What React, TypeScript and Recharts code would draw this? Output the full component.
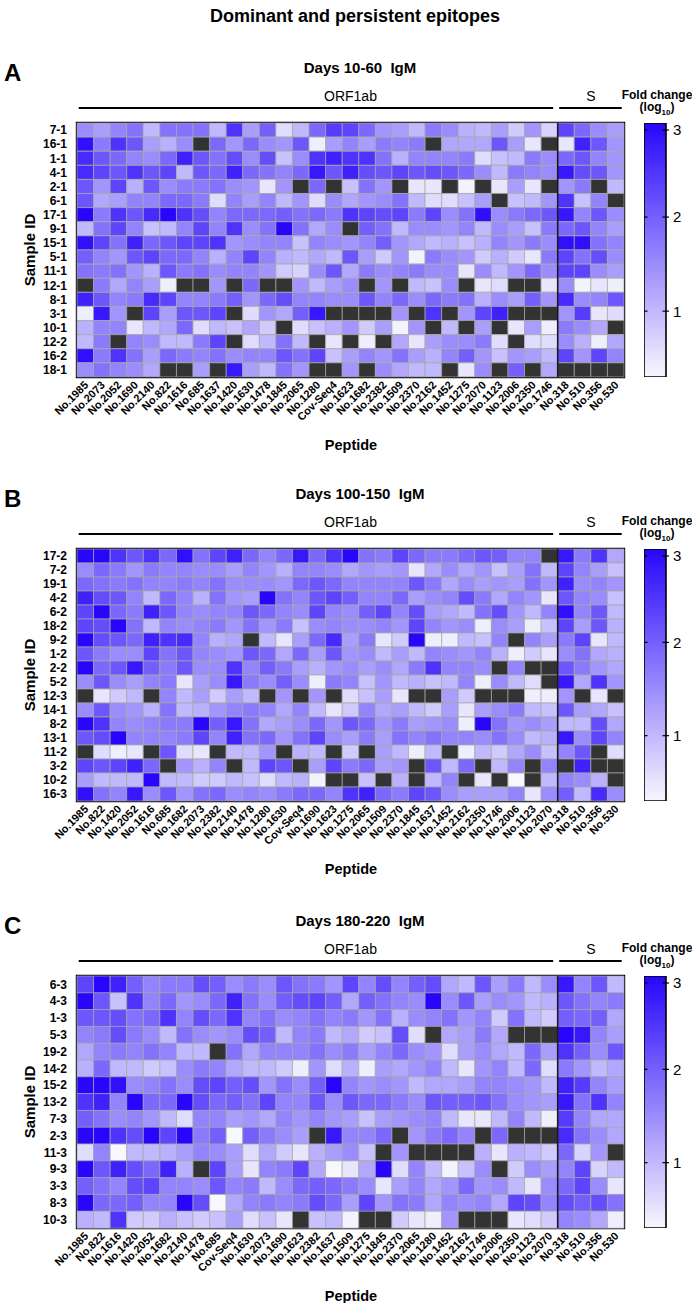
import React from 'react';
import { BarChart, Bar, Cell, XAxis, YAxis, ReferenceLine, ReferenceArea } from 'recharts';

const FONT = '"Liberation Sans", Arial, Helvetica, sans-serif';
const X = null; // black cell (no value)

const GROUP_NAMES = ['ORF1ab', 'S'];
const GROUP_START = [0, 29];
const GROUP_END = [29, 33];
const GROUP_LABEL_AT = [16.5, 31];

const SCALE_MIN = 0.3;
const SCALE_MAX = 3;
const LEGEND_TICKS = [1, 2, 3];

// ---- panel A: Days 10-60 IgM
const SAMPLES_A = ['7-1', '16-1', '1-1', '4-1', '2-1', '6-1', '17-1', '9-1', '15-1', '5-1', '11-1', '12-1', '8-1', '3-1', '10-1', '12-2', '16-2', '18-1'];
const PEPTIDES_A = ['No.1985', 'No.2073', 'No.2052', 'No.1690', 'No.2140', 'No.822', 'No.1616', 'No.685', 'No.1637', 'No.1420', 'No.1630', 'No.1478', 'No.1845', 'No.2065', 'No.1280', 'Cov-Seq4', 'No.1623', 'No.1682', 'No.2382', 'No.1509', 'No.2370', 'No.2162', 'No.1452', 'No.1275', 'No.2070', 'No.1123', 'No.2006', 'No.2350', 'No.1746', 'No.318', 'No.510', 'No.356', 'No.530'];
const FOLD_A = [
  [1.5, 1.3, 1.6, 1.8, 1.0, 1.8, 1.8, 1.8, 1.0, 2.5, 1.3, 2.0, 0.6, 1.0, 1.9, 2.4, 2.3, 1.9, 1.4, 1.3, 1.0, 1.7, 1.5, 1.1, 1.0, 1.3, 0.8, 1.4, 0.7, 2.3, 1.9, 1.5, 1.3],
  [2.9, 1.7, 2.5, 2.1, 1.3, 1.1, 1.5, X, 1.9, 1.4, 1.9, 1.5, 1.4, 2.1, 0.4, 1.3, 1.6, 1.3, 1.7, 1.6, 1.7, X, 1.2, 1.2, 1.2, 2.1, 1.3, 0.5, X, 0.5, 2.7, 2.1, 1.4],
  [2.6, 2.1, 1.9, 1.6, 1.5, 1.9, 2.7, 2.1, 1.8, 2.2, 1.5, 2.2, 0.9, 1.5, 2.5, 2.7, 2.5, 2.5, 1.8, 1.1, 1.6, 1.6, 1.6, 1.7, 0.6, 0.9, 1.0, 1.7, 1.5, 1.9, 2.1, 1.6, 1.4],
  [2.6, 2.3, 2.1, 2.5, 2.1, 2.3, 1.0, 2.1, 1.9, 2.7, 1.9, 1.8, 1.6, 1.9, 2.8, 2.1, 2.7, 2.2, 2.1, 2.3, 2.1, 2.2, 2.1, 1.9, 1.5, 1.0, 1.7, 1.6, 1.5, 2.8, 2.2, 2.1, 1.4],
  [2.1, 1.4, 2.3, 1.1, 2.1, 1.5, 1.7, 1.7, 1.8, 1.5, 1.4, 0.5, 1.4, X, 1.9, X, 0.9, 1.8, 1.4, X, 0.5, 0.5, X, 0.35, X, 0.5, 1.3, 0.5, X, 1.4, 1.7, X, 1.0],
  [2.1, 1.2, 1.3, 1.6, 1.6, 1.9, 1.9, 1.7, 0.6, 1.6, 1.3, 1.6, 1.0, 1.4, 0.6, 1.5, 1.2, 1.4, 1.5, 1.8, 1.0, 0.6, 0.6, 0.9, 1.3, X, 0.9, 1.0, 1.4, 2.5, 0.9, 1.6, X],
  [3.0, 1.7, 2.5, 2.1, 2.6, 3.0, 2.5, 2.2, 1.6, 1.9, 1.9, 1.9, 2.0, 1.8, 1.9, 1.7, 2.5, 2.3, 2.2, 2.3, 1.7, 2.3, 1.5, 1.8, 2.9, 1.5, 1.7, 1.9, 2.1, 2.8, 1.6, 2.1, 1.5],
  [1.0, 1.8, 2.3, 1.6, 0.9, 1.0, 1.6, 2.3, 1.6, 2.5, 1.5, 1.8, 3.0, 1.8, 1.2, 1.5, X, 2.0, 1.8, 1.0, 1.5, 1.5, 1.4, 1.6, 1.0, 1.5, 1.3, 0.9, 1.7, 1.9, 2.1, 1.6, 1.3],
  [2.9, 2.3, 1.8, 2.7, 1.9, 2.1, 2.3, 2.3, 2.5, 1.4, 1.5, 1.6, 1.6, 0.9, 1.6, 1.5, 1.4, 1.6, 2.0, 1.4, 1.2, 1.0, 1.1, 0.9, 1.1, 1.6, 1.4, 1.7, 1.5, 2.9, 2.9, 1.8, 1.6],
  [2.0, 1.6, 1.4, 2.1, 2.3, 1.9, 1.9, 1.6, 1.1, 1.6, 2.3, 1.6, 1.1, 1.0, 1.2, 1.0, 2.1, 1.3, 0.8, 1.4, 0.35, 1.7, 1.5, 1.4, 0.8, 1.1, 0.8, 0.5, 1.7, 2.3, 1.8, 2.2, 1.5],
  [1.8, 1.7, 1.8, 1.4, 1.1, 2.1, 1.7, 1.8, 1.5, 1.6, 1.6, 1.4, 0.8, 0.7, 1.5, 2.1, 1.2, 1.7, 1.5, 1.6, 1.7, 1.5, 1.5, 0.5, 1.5, 1.0, 1.4, 1.9, 1.5, 2.3, 2.3, 1.5, 1.3],
  [X, 1.7, 1.2, 1.6, 1.3, 0.4, X, X, 1.4, X, 1.9, X, X, 1.4, 1.0, 1.3, 1.5, X, 1.4, X, 1.0, 0.9, 1.5, X, 0.5, 0.6, X, X, 0.5, 1.5, 0.35, 0.5, 0.4],
  [2.7, 2.1, 1.6, 1.7, 2.6, 2.3, 1.6, 1.6, 1.7, 2.0, 1.4, 1.9, 2.2, 1.6, 1.6, 1.5, 1.5, 2.1, 1.6, 1.9, 1.5, 1.9, 1.7, 1.8, 1.1, 1.5, 1.3, 2.0, 1.4, 2.6, 1.5, 1.6, 2.1],
  [0.4, 2.8, 1.4, X, 2.3, 1.3, 2.1, 2.1, 2.3, X, 0.6, 1.4, 1.2, 2.0, 2.8, X, X, X, X, 1.4, X, 2.5, X, 1.4, 2.3, 2.7, X, X, X, 1.4, 2.4, 0.5, 0.6],
  [1.1, 1.6, 1.6, 0.5, 1.0, 1.2, 1.9, 0.6, 1.0, 0.9, 1.2, 0.8, X, 0.6, 0.9, 1.1, 1.4, 0.8, 1.3, 0.35, 1.4, X, 1.0, X, 1.3, X, 0.5, 1.3, 0.4, 1.7, 1.5, 1.2, X],
  [1.0, 1.7, X, 1.6, 1.5, 1.0, 1.0, 1.7, 2.3, X, 0.6, 1.0, 1.8, 1.0, X, 0.5, X, 0.4, X, 1.2, 0.5, 1.3, 1.5, 1.5, 1.7, 0.6, X, 0.6, 0.6, 1.5, 1.1, 0.4, 1.2],
  [2.9, 1.7, 2.5, 1.8, 1.3, 1.9, 1.7, 1.6, 1.8, 1.5, 1.6, 1.6, 2.1, 1.8, 2.3, 0.9, 1.3, 1.6, 1.4, 1.8, 1.3, 1.1, 1.6, 2.0, 1.4, 0.9, 1.4, 1.3, 1.0, 2.3, 1.4, 2.3, 1.6],
  [1.5, 1.8, 1.6, 1.5, 1.2, X, X, 1.3, X, 2.8, 1.3, 1.0, 1.8, 1.4, X, X, 1.4, X, 1.5, 1.2, 1.0, 1.0, X, 0.5, 1.5, X, 2.0, X, 1.2, X, X, X, X],
];

// ---- panel B: Days 100-150 IgM
const SAMPLES_B = ['17-2', '7-2', '19-1', '4-2', '6-2', '18-2', '9-2', '1-2', '2-2', '5-2', '12-3', '14-1', '8-2', '13-1', '11-2', '3-2', '10-2', '16-3'];
const PEPTIDES_B = ['No.1985', 'No.822', 'No.1420', 'No.2052', 'No.1616', 'No.685', 'No.1682', 'No.2073', 'No.2382', 'No.2140', 'No.1478', 'No.1280', 'No.1630', 'Cov-Seq4', 'No.1690', 'No.1623', 'No.1275', 'No.2065', 'No.1509', 'No.2370', 'No.1845', 'No.1637', 'No.1452', 'No.2162', 'No.2350', 'No.1746', 'No.2006', 'No.1123', 'No.2070', 'No.318', 'No.510', 'No.356', 'No.530'];
const FOLD_B = [
  [3.0, 3.0, 2.5, 2.1, 2.5, 1.9, 2.9, 1.8, 2.3, 2.7, 1.9, 1.6, 1.9, 2.8, 1.9, 2.5, 3.0, 1.8, 1.7, 2.3, 1.9, 1.7, 1.7, 1.9, 2.1, 2.0, 1.6, 1.6, X, 2.8, 1.7, 2.5, 1.2],
  [1.5, 1.9, 1.7, 1.4, 1.7, 1.6, 1.6, 1.5, 1.5, 1.3, 1.6, 1.4, 1.1, 1.6, 1.6, 1.5, 1.2, 1.4, 1.3, 1.4, 0.5, 1.2, 1.5, 1.2, 1.4, 0.9, 1.3, 1.8, 1.0, 2.3, 1.6, 1.3, 0.9],
  [1.9, 1.8, 1.7, 1.8, 1.6, 1.6, 1.7, 1.6, 1.8, 1.5, 1.5, 1.5, 1.4, 1.9, 2.1, 1.9, 1.6, 1.6, 1.6, 1.6, 2.1, 1.7, 1.2, 1.5, 1.3, 1.4, 1.3, 1.8, 1.4, 2.7, 1.5, 1.6, 1.4],
  [2.7, 2.2, 2.1, 1.6, 1.0, 1.9, 1.6, 1.1, 1.8, 1.4, 1.3, 3.0, 1.8, 1.6, 2.1, 2.3, 2.0, 1.6, 1.6, 1.9, 1.3, 1.5, 1.6, 2.2, 1.7, 1.2, 1.6, 1.4, 0.5, 2.1, 1.6, 1.5, 0.9],
  [2.3, 3.0, 1.9, 1.7, 2.7, 2.1, 1.6, 1.5, 1.6, 1.6, 2.1, 1.9, 1.6, 1.5, 2.3, 1.6, 1.5, 2.0, 2.3, 1.6, 2.2, 1.3, 1.2, 1.0, 1.8, 2.2, 1.4, 1.0, 1.6, 2.9, 1.6, 2.1, 1.0],
  [2.3, 2.2, 3.0, 1.8, 1.0, 1.6, 1.5, 1.6, 1.7, 1.4, 1.8, 1.4, 1.7, 0.9, 1.5, 1.6, 1.5, 1.5, 1.6, 1.4, 2.3, 1.6, 1.4, 1.5, 0.4, 1.5, 1.3, 0.4, 0.9, 2.3, 1.3, 2.1, 1.1],
  [3.0, 2.2, 2.1, 1.9, 2.7, 2.5, 2.6, 1.6, 1.1, 1.2, X, 1.0, 0.5, 1.3, 1.9, 2.6, 1.3, 1.7, 0.5, 0.8, 3.0, 0.4, 0.4, 1.0, 0.9, 1.6, X, 1.6, 1.3, 1.7, 2.3, 0.5, 1.0],
  [2.1, 1.7, 1.5, 1.5, 2.3, 1.8, 2.1, 1.6, 1.5, 1.4, 2.1, 1.9, 1.2, 1.9, 1.3, 2.1, 1.4, 1.5, 1.0, 1.3, 1.0, 1.6, 1.5, 1.4, 1.6, 1.1, 0.4, 0.8, 0.5, 1.5, 1.8, 1.2, 1.1],
  [3.0, 1.9, 2.1, 2.8, 2.0, 1.7, 2.1, 1.5, 1.5, 2.5, 1.6, 2.0, 1.7, 1.3, 1.1, 1.4, 1.5, 1.3, 1.5, 1.2, 1.7, 2.5, 1.6, 1.6, 1.5, X, 1.6, X, X, 2.1, 1.7, 1.4, 1.2],
  [1.5, 2.1, 1.5, 1.3, 1.6, 1.7, 0.5, 1.3, 1.5, 2.8, 1.7, 1.5, 2.0, 1.5, 0.4, 1.7, 1.6, 0.9, 1.4, 1.0, 1.1, 0.9, 1.0, 1.6, 0.4, 1.5, 1.0, 0.6, X, 2.8, 1.2, 2.5, 1.4],
  [X, 0.5, 0.8, 1.0, X, 1.6, 1.0, 1.3, 0.8, 1.3, 1.0, X, 1.4, X, 1.4, X, 0.6, 0.9, 1.3, 0.5, X, X, 1.3, 0.8, X, X, X, 0.4, 0.4, 1.4, X, 0.5, X],
  [1.5, 2.1, 1.5, 1.4, 1.1, 1.8, 1.0, 1.1, 1.4, 1.6, 1.7, 1.6, 1.2, 1.6, 1.0, 0.5, 0.8, 1.6, 1.2, 1.3, 1.0, 0.8, 1.3, 0.5, 1.3, 1.5, 1.7, 1.0, 0.9, 2.1, 1.3, 1.2, 0.9],
  [3.0, 2.5, 1.6, 1.5, 1.6, 1.7, 1.7, 3.0, 2.0, 2.8, 1.8, 1.2, 1.3, 1.5, 1.9, 1.4, 2.1, 1.9, 1.4, 1.7, 1.3, 1.4, 1.5, 0.4, 3.0, 1.8, 1.4, 1.5, 1.3, 1.0, 1.0, 2.2, 1.2],
  [2.1, 2.2, 3.0, 1.6, 1.6, 1.6, 1.7, 2.3, 1.6, 2.7, 1.8, 1.9, 1.4, 1.8, 2.3, 1.5, 1.3, 1.7, 1.3, 1.8, 1.6, 1.8, 1.6, 1.6, 1.5, 1.8, 1.5, 1.0, 1.1, 2.8, 1.5, 2.3, 1.6],
  [X, 0.6, 0.4, 0.5, X, 2.1, 0.6, 0.5, X, 1.0, 1.0, 1.4, X, 1.1, 1.0, X, 0.8, X, 1.3, 1.0, 0.4, 1.0, X, 0.4, 1.0, 0.8, 1.2, 1.5, 0.9, 1.6, 2.1, X, 0.6],
  [2.3, 2.1, 2.3, 2.7, 1.9, X, 1.4, 1.1, 1.6, X, 1.0, 2.3, 2.1, X, 1.3, 2.3, 1.7, 1.9, 1.3, 1.4, X, 2.1, 1.0, 1.9, X, 1.0, 1.6, X, 1.6, X, 2.7, X, X],
  [1.3, 1.0, 1.0, 1.0, 3.0, 1.0, 1.0, 0.8, 0.8, 1.0, 0.9, 0.6, 1.0, 1.1, 0.35, X, X, 0.9, X, 1.1, X, 1.0, 1.6, X, 0.5, X, 0.3, X, 1.0, 1.6, 1.5, 1.1, X],
  [2.9, 1.8, 1.6, 2.8, 1.5, 2.1, 1.4, 1.8, 1.9, 1.5, 1.6, 1.5, 1.7, 1.9, 1.9, 1.6, 2.5, 2.7, 1.9, 1.7, 2.3, 2.1, 1.5, 1.3, 1.3, 1.3, 1.6, 0.5, 1.5, 2.0, 1.0, 2.6, 1.5],
];

// ---- panel C: Days 180-220 IgM
const SAMPLES_C = ['6-3', '4-3', '1-3', '5-3', '19-2', '14-2', '15-2', '13-2', '7-3', '2-3', '11-3', '9-3', '3-3', '8-3', '10-3'];
const PEPTIDES_C = ['No.1985', 'No.822', 'No.1616', 'No.1420', 'No.2052', 'No.1682', 'No.2140', 'No.1478', 'No.685', 'Cov-Seq4', 'No.1630', 'No.2073', 'No.1690', 'No.1623', 'No.2382', 'No.1637', 'No.1509', 'No.1275', 'No.1845', 'No.2370', 'No.2065', 'No.1280', 'No.1452', 'No.2162', 'No.1746', 'No.2006', 'No.2350', 'No.1123', 'No.2070', 'No.318', 'No.510', 'No.356', 'No.530'];
const FOLD_C = [
  [2.3, 3.0, 2.7, 2.0, 1.6, 1.7, 1.7, 2.2, 2.0, 1.5, 1.7, 1.5, 2.1, 1.8, 1.7, 1.4, 2.3, 1.6, 2.2, 1.6, 2.0, 2.2, 1.2, 1.0, 2.1, 1.3, 1.7, 1.0, 1.5, 2.8, 1.6, 2.1, 1.0],
  [3.0, 2.1, 0.9, 2.5, 1.6, 1.9, 1.4, 1.5, 1.9, 2.7, 1.8, 1.5, 2.0, 2.2, 2.3, 2.0, 1.2, 2.0, 1.8, 1.6, 1.5, 3.0, 1.5, 2.1, 1.3, 1.5, 1.4, 1.0, 1.1, 2.1, 1.8, 1.6, 1.7],
  [2.1, 2.1, 2.2, 1.8, 1.9, 2.5, 1.6, 2.2, 1.9, 2.5, 1.6, 1.8, 1.5, 1.6, 1.8, 1.6, 1.7, 1.4, 1.8, 1.1, 1.5, 1.6, 1.8, 1.4, 1.6, 0.8, 1.8, 1.0, 0.8, 2.0, 1.9, 2.0, 1.2],
  [1.6, 1.7, 2.2, 1.7, 1.5, 1.0, 1.8, 1.5, 1.4, 1.5, 2.2, 2.0, 1.0, 1.6, 1.7, 1.0, 1.2, 0.8, 0.9, 2.2, 0.6, X, 1.2, 1.3, 1.7, 1.2, X, X, X, 3.0, 2.8, 1.6, 1.3],
  [1.2, 1.6, 1.7, 1.6, 1.8, 1.6, 1.0, 1.0, X, 1.8, 1.2, 1.6, 1.6, 1.6, 1.8, 1.5, 1.7, 1.3, 1.6, 1.9, 1.5, 1.4, 0.6, 1.3, 1.5, 1.2, 1.0, 1.9, 1.3, 2.5, 2.0, 1.5, 2.1],
  [1.1, 1.9, 1.0, 1.0, 0.8, 0.9, 1.5, 1.7, 1.6, 1.2, 1.0, 1.0, 0.8, 0.4, 1.4, 0.6, 1.1, 0.4, 1.3, 1.2, 1.4, 1.6, 1.0, 0.5, 1.4, 1.6, 1.0, 1.9, 0.6, 1.7, 1.4, 1.0, 1.2],
  [3.0, 3.0, 2.9, 1.5, 1.6, 1.8, 1.5, 2.2, 2.3, 2.0, 2.2, 1.4, 1.8, 1.5, 2.0, 3.0, 1.6, 1.4, 1.5, 1.4, 1.0, 1.2, 1.2, 1.3, 1.6, 1.6, 1.5, 1.4, 1.0, 2.7, 2.4, 1.6, 1.3],
  [2.5, 2.7, 1.6, 3.0, 1.9, 1.9, 3.0, 2.2, 1.9, 2.0, 1.8, 2.3, 1.6, 1.6, 2.1, 1.5, 2.1, 1.9, 1.9, 1.7, 1.5, 2.1, 2.0, 2.0, 2.1, 1.8, 1.5, 1.4, 1.3, 2.8, 1.8, 2.5, 1.6],
  [2.0, 1.8, 1.5, 1.6, 1.4, 1.0, 0.6, 1.6, 1.6, 1.3, 1.4, 1.2, 1.6, 1.4, 1.6, 1.4, 1.3, 0.9, 1.3, 1.4, 1.5, 1.6, 1.0, 0.5, 0.5, 1.0, 1.6, 1.0, 0.4, 2.4, 1.6, 1.2, 1.2],
  [3.0, 3.0, 2.5, 2.2, 3.0, 2.3, 3.0, 1.7, 2.0, 0.3, 2.0, 1.7, 1.5, 1.3, X, 2.8, 1.6, 1.6, 1.9, X, 1.4, 1.7, 1.9, 1.6, X, 1.9, X, X, X, 2.6, 1.8, 1.5, 1.2],
  [0.6, 1.6, 0.3, 1.0, 1.0, 1.1, 1.3, 1.6, 1.5, 1.3, 0.6, 1.2, 0.8, 0.5, 1.1, 1.3, 1.5, 0.9, X, 1.4, X, X, X, X, 1.1, 0.5, 1.1, 1.0, 0.8, 1.9, 0.7, 1.4, X],
  [3.0, 2.1, 2.7, 2.2, 1.9, 2.7, 1.1, X, 2.3, 1.3, 0.5, 1.6, 1.7, 2.3, 1.2, 0.3, 0.5, 1.2, 3.0, 0.6, 1.6, 1.0, 0.35, 0.9, 1.5, X, 0.8, 1.5, 1.3, 1.6, 2.3, 0.7, 1.0],
  [2.0, 1.8, 1.6, 2.2, 2.3, 1.6, 1.6, 1.5, 2.1, 1.6, 1.7, 1.0, 1.5, 1.9, 2.0, 1.9, 1.7, 1.5, 0.5, 1.3, 1.6, 1.2, 1.4, 1.9, 1.4, 1.5, 1.0, 0.5, 1.5, 1.9, 2.3, 1.5, 0.5],
  [3.0, 1.9, 1.9, 2.0, 1.6, 1.6, 3.0, 2.2, 0.3, 1.2, 1.6, 1.7, 1.6, 1.7, 2.2, 1.9, 1.3, 2.3, 1.4, 1.8, 1.7, 1.2, 1.6, 1.5, 1.6, 1.2, 2.3, 2.2, 1.6, 2.2, 2.0, 2.2, 1.8],
  [1.1, 1.0, 2.5, 0.8, 0.8, 1.1, 0.9, 0.8, 0.9, 1.3, 0.6, 0.9, 0.5, X, 0.9, 1.0, 0.35, X, X, 0.8, 0.5, 0.4, 1.4, X, X, X, 0.5, 0.6, 0.8, 1.6, 1.5, 1.2, 0.4],
];

// geometry of the heatmap plot area (page pixels)
const CHART_W = 692;
const PLOT_LEFT = 77;
const PLOT_W = 547;
const Y_AXIS_W = 60;
const TOP_AX = 40;
const BOTTOM_AX = 90;
const LEG_LEFT = 644;
const LEG_BAR_W = 22;
const LEG_AXIS_W = 34;

const LOW = [247, 247, 253];
const HIGH = [40, 6, 252];

function foldColor(v: number | null) {
  if (v === null || v === undefined) return '#333333';
  let t = (v - SCALE_MIN) / (SCALE_MAX - SCALE_MIN);
  t = Math.max(0, Math.min(1, t));
  const c = LOW.map((lo, i) => Math.round(lo + (HIGH[i] - lo) * t));
  return `rgb(${c[0]},${c[1]},${c[2]})`;
}

const PeptideTick = (props: any) => {
  const { x, y, payload, names } = props;
  const idx = Math.round(payload.value - 0.5);
  const ax = x + 1;
  return (
    <text
      x={ax}
      y={y}
      dy="0.35em"
      transform={`rotate(-45, ${ax}, ${y})`}
      textAnchor="end"
      fontSize={11}
      fontWeight={700}
      fontFamily={FONT}
      fill="#000"
    >
      {names[idx]}
    </text>
  );
};

const GroupTick = (props: any) => {
  const { x, payload, colW } = props;
  const g = GROUP_START.findIndex((s, i) => (s + GROUP_END[i]) / 2 === payload.value);
  if (g < 0) return null;
  const mid = payload.value;
  const x0 = x + (GROUP_START[g] - mid) * colW + (g === 0 ? 1.7 : 1.5);
  const x1 = x + (GROUP_END[g] - mid) * colW - (g === 0 ? 4.5 : 2.3);
  const tx = x + (GROUP_LABEL_AT[g] - mid) * colW;
  return (
    <g>
      <line x1={x0} x2={x1} y1={TOP_AX - 15} y2={TOP_AX - 15} stroke="#000" strokeWidth={2} />
      <text x={tx} y={TOP_AX - 22.5} textAnchor="middle" fontSize={14} fontFamily={FONT} fill="#000">
        {GROUP_NAMES[g]}
      </text>
    </g>
  );
};

const LegendTick = (props: any) => {
  const { x, y, payload } = props;
  return (
    <g>
      <line x1={x - LEG_BAR_W} x2={x - LEG_BAR_W + 3.5} y1={y} y2={y} stroke="#000" strokeWidth={1.2} />
      <line x1={x - 3.5} x2={x + 3} y1={y} y2={y} stroke="#000" strokeWidth={1.2} />
      <text x={x + 7} y={y} dy="0.36em" fontSize={15} fontFamily={FONT} fill="#000">
        {payload.value}
      </text>
    </g>
  );
};

function FoldLegend({ heatTop, plotH, gradId }: any) {
  const data = [{ name: 'fold', top: SCALE_MAX }];
  return (
    <>
      <div style={{ position: 'absolute', left: 657, top: heatTop - 28, transform: 'translate(-50%,-50%)', fontSize: 12, fontWeight: 700, whiteSpace: 'nowrap', lineHeight: 1 }}>
        Fold change
      </div>
      <div style={{ position: 'absolute', left: 657, top: heatTop - 14, transform: 'translate(-50%,-50%)', fontSize: 12, fontWeight: 700, whiteSpace: 'nowrap', lineHeight: 1 }}>
        (log<sub style={{ fontSize: 8 }}>10</sub>)
      </div>
      <div style={{ position: 'absolute', left: LEG_LEFT, top: heatTop - 2 }}>
        <BarChart width={LEG_BAR_W + LEG_AXIS_W} height={plotH + 4} data={data} margin={{ top: 2, right: 0, bottom: 2, left: 0 }} barCategoryGap={0}>
          <defs>
            <linearGradient id={gradId} x1="0" y1="0" x2="0" y2="1">
              <stop offset="0%" stopColor={foldColor(SCALE_MAX)} />
              <stop offset="100%" stopColor={foldColor(SCALE_MIN)} />
            </linearGradient>
          </defs>
          <XAxis dataKey="name" hide />
          <YAxis
            orientation="right"
            type="number"
            domain={[SCALE_MIN, SCALE_MAX]}
            ticks={LEGEND_TICKS}
            width={LEG_AXIS_W}
            axisLine={false}
            tickLine={false}
            tickSize={0}
            tickMargin={0}
            allowDataOverflow
            tick={(p: any) => <LegendTick {...p} />}
          />
          <Bar dataKey="top" fill={`url(#${gradId})`} stroke="#000" strokeWidth={1.6} isAnimationActive={false} />
        </BarChart>
      </div>
    </>
  );
}

function Heatmap({ letter, title, samples, peptides, values, heatTop, plotH }: any) {
  const n = peptides.length;
  const colW = PLOT_W / n;
  const rows = samples.map((id: string) => {
    const r: any = { id };
    peptides.forEach((_: string, k: number) => {
      r['c' + k] = 1;
    });
    return r;
  });
  const colTicks = peptides.map((_: string, k: number) => k + 0.5);
  const groupTicks = GROUP_START.map((s, i) => (s + GROUP_END[i]) / 2);
  const chartH = TOP_AX + plotH + BOTTOM_AX;
  const centered: React.CSSProperties = { position: 'absolute', transform: 'translate(-50%,-50%)', whiteSpace: 'pre', lineHeight: 1, fontWeight: 700 };

  return (
    <>
      <div style={{ position: 'absolute', left: 4, top: heatTop - 50, transform: 'translateY(-50%)', fontSize: 24, fontWeight: 700, lineHeight: 1 }}>{letter}</div>
      <div style={{ ...centered, left: 360, top: heatTop - 56, fontSize: 15 }}>{title}</div>
      <div style={{ ...centered, left: 29, top: heatTop + plotH / 2, transform: 'translate(-50%,-50%) rotate(-90deg)', fontSize: 15 }}>Sample ID</div>
      <div style={{ ...centered, left: 351, top: heatTop + plotH + 68, fontSize: 14.5 }}>Peptide</div>
      <div style={{ position: 'absolute', left: 0, top: heatTop - TOP_AX }}>
        <BarChart
          width={CHART_W}
          height={chartH}
          data={rows}
          layout="vertical"
          barCategoryGap={0}
          barGap={0}
          margin={{ top: 0, right: CHART_W - PLOT_LEFT - PLOT_W, bottom: 0, left: PLOT_LEFT - Y_AXIS_W }}
        >
          <XAxis
            type="number"
            domain={[0, n]}
            ticks={colTicks}
            interval={0}
            height={BOTTOM_AX}
            axisLine={false}
            tickLine={false}
            tickSize={0}
            tickMargin={6}
            tick={(p: any) => <PeptideTick {...p} names={peptides} />}
          />
          <XAxis
            xAxisId="grp"
            orientation="top"
            type="number"
            domain={[0, n]}
            ticks={groupTicks}
            interval={0}
            height={TOP_AX}
            axisLine={false}
            tickLine={false}
            allowDataOverflow
            tick={(p: any) => <GroupTick {...p} colW={colW} />}
          />
          <YAxis
            type="category"
            dataKey="id"
            width={Y_AXIS_W}
            axisLine={false}
            tickLine={false}
            tickSize={0}
            tickMargin={10}
            interval={0}
            tick={{ fill: '#000', fontSize: 12, fontWeight: 700, fontFamily: FONT }}
          />
          {peptides.map((p: string, k: number) => (
            <Bar key={p + k} dataKey={'c' + k} stackId="cells" isAnimationActive={false}>
              {values.map((row: (number | null)[], i: number) => (
                <Cell key={i} fill={foldColor(row[k])} stroke="#a6a6a6" strokeWidth={0.7} />
              ))}
            </Bar>
          ))}
          <ReferenceLine x={GROUP_END[0]} stroke="#1a1a1a" strokeWidth={1.6} />
          <ReferenceArea
            x1={0}
            x2={n}
            y1={samples[0]}
            y2={samples[samples.length - 1]}
            fill="none"
            fillOpacity={0}
            stroke="#000"
            strokeWidth={2.4}
            ifOverflow="visible"
          />
        </BarChart>
      </div>
      <FoldLegend heatTop={heatTop} plotH={plotH} gradId={'grad' + letter} />
    </>
  );
}

export default function App() {
  return (
    <div style={{ position: 'relative', width: 692, height: 1303, background: '#fff', fontFamily: FONT, color: '#000', overflow: 'hidden' }}>
      <style>{'body{margin:0}'}</style>
      <div style={{ position: 'absolute', left: 355, top: 16, transform: 'translate(-50%,-50%)', fontSize: 18, fontWeight: 700, whiteSpace: 'nowrap', lineHeight: 1 }}>
        Dominant and persistent epitopes
      </div>
      <Heatmap letter="A" title="Days 10-60  IgM" samples={SAMPLES_A} peptides={PEPTIDES_A} values={FOLD_A} heatTop={123} plotH={254} />
      <Heatmap letter="B" title="Days 100-150  IgM" samples={SAMPLES_B} peptides={PEPTIDES_B} values={FOLD_B} heatTop={549} plotH={252} />
      <Heatmap letter="C" title="Days 180-220  IgM" samples={SAMPLES_C} peptides={PEPTIDES_C} values={FOLD_C} heatTop={976} plotH={252} />
    </div>
  );
}
